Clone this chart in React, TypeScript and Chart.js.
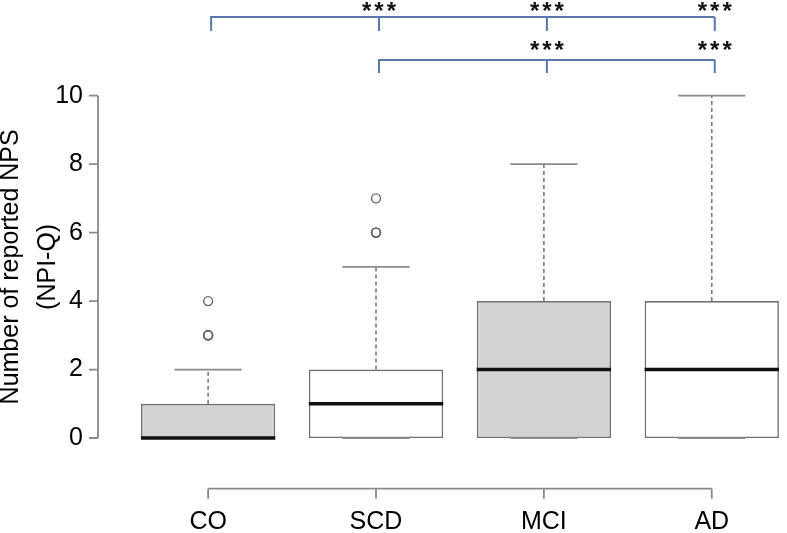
import React, { useEffect, useRef } from 'react';
import { Chart, registerables } from 'chart.js';

Chart.register(...registerables);

// ---- data ----
const categories = ['CO', 'SCD', 'MCI', 'AD'];
const whiskerLow = [0, 0, 0, 0];
const q1 = [0, 0, 0, 0];
const medians = [0, 1, 2, 2];
const q3 = [1, 2, 4, 4];
const whiskerHigh = [2, 5, 8, 10];
const outliers = [[3, 3, 3, 4], [6, 6, 6, 7], [], []];
const boxFills = ['#d3d3d3', '#ffffff', '#d3d3d3', '#ffffff'];
const yTicks = [0, 2, 4, 6, 8, 10];
const bracketFrom = [0, 1];
const bracketTargets = [[1, 2, 3], [2, 3]];
const sigLabel = '***';

const FONT = "'Liberation Sans', Arial, Helvetica, sans-serif";

const boxPlugin = {
  id: 'boxExtras',
  afterDatasetsDraw(chart: any) {
    const ctx = chart.ctx;
    const xs = chart.scales.x;
    const ys = chart.scales.y;
    const meta = chart.getDatasetMeta(0);
    ctx.save();
    categories.forEach((_, i) => {
      const cx = xs.getPixelForValue(i + 1);
      const bar = meta.data[i];
      const w = bar ? bar.width : 135;
      // whiskers (dashed)
      ctx.strokeStyle = '#7a7a7a';
      ctx.lineWidth = 1.6;
      ctx.setLineDash([4, 3]);
      ctx.beginPath();
      ctx.moveTo(cx, ys.getPixelForValue(q3[i]));
      ctx.lineTo(cx, ys.getPixelForValue(whiskerHigh[i]));
      ctx.moveTo(cx, ys.getPixelForValue(q1[i]));
      ctx.lineTo(cx, ys.getPixelForValue(whiskerLow[i]));
      ctx.stroke();
      ctx.setLineDash([]);
      // staples
      ctx.strokeStyle = '#8a8a8a';
      ctx.lineWidth = 1.8;
      ctx.beginPath();
      ctx.moveTo(cx - w / 4, ys.getPixelForValue(whiskerHigh[i]));
      ctx.lineTo(cx + w / 4, ys.getPixelForValue(whiskerHigh[i]));
      ctx.moveTo(cx - w / 4, ys.getPixelForValue(whiskerLow[i]));
      ctx.lineTo(cx + w / 4, ys.getPixelForValue(whiskerLow[i]));
      ctx.stroke();
      // median
      ctx.strokeStyle = '#111111';
      ctx.lineWidth = 3.5;
      ctx.beginPath();
      ctx.moveTo(cx - w / 2, ys.getPixelForValue(medians[i]));
      ctx.lineTo(cx + w / 2, ys.getPixelForValue(medians[i]));
      ctx.stroke();
    });

    // R-style axes
    const area = chart.chartArea;
    ctx.strokeStyle = '#8a8a8a';
    ctx.lineWidth = 1.8;
    const axY = area.bottom + 37;
    ctx.beginPath();
    ctx.moveTo(xs.getPixelForValue(1), axY);
    ctx.lineTo(xs.getPixelForValue(categories.length), axY);
    categories.forEach((_, i) => {
      const px = xs.getPixelForValue(i + 1);
      ctx.moveTo(px, axY);
      ctx.lineTo(px, axY + 10);
    });
    const axX = area.left;
    ctx.moveTo(axX, ys.getPixelForValue(yTicks[0]));
    ctx.lineTo(axX, ys.getPixelForValue(yTicks[yTicks.length - 1]));
    yTicks.forEach((v) => {
      const py = ys.getPixelForValue(v);
      ctx.moveTo(axX, py);
      ctx.lineTo(axX - 9, py);
    });
    ctx.stroke();

    // significance brackets
    const rowY = [17, 60];
    const tickLen = [14, 13];
    const starBase = [19, 58];
    ctx.strokeStyle = '#5877ad';
    ctx.lineWidth = 2;
    ctx.fillStyle = '#111111';
    ctx.font = `bold 24px ${FONT}`;
    (ctx as any).letterSpacing = '3px';
    ctx.textAlign = 'center';
    ctx.textBaseline = 'alphabetic';
    bracketFrom.forEach((from, r) => {
      const targets = bracketTargets[r];
      const x0 = xs.getPixelForValue(from + 1) + 3;
      const x1 = xs.getPixelForValue(targets[targets.length - 1] + 1) + 3;
      ctx.beginPath();
      ctx.moveTo(x0, rowY[r] + tickLen[r]);
      ctx.lineTo(x0, rowY[r]);
      ctx.lineTo(x1, rowY[r]);
      targets.forEach((t) => {
        const px = xs.getPixelForValue(t + 1) + 3;
        ctx.moveTo(px, rowY[r]);
        ctx.lineTo(px, rowY[r] + tickLen[r]);
      });
      ctx.stroke();
      targets.forEach((t) => {
        const px = xs.getPixelForValue(t + 1) + 3;
        ctx.fillText(sigLabel, px + 1.5, starBase[r]);
      });
    });
    ctx.restore();
  },
};

export default function App() {
  const ref = useRef<HTMLCanvasElement>(null);
  useEffect(() => {
    document.body.style.margin = '0';
    if (!ref.current) return;
    const chart = new Chart(ref.current, {
      type: 'bar',
      data: {
        datasets: [
          {
            type: 'bar',
            data: categories.map((_, i) => ({ x: i + 1, y: [q1[i], q3[i]] })) as any,
            backgroundColor: boxFills,
            borderColor: '#707070',
            borderWidth: 1.6,
            borderSkipped: false,
            barPercentage: 0.8,
            categoryPercentage: 1,
            order: 2,
          } as any,
          {
            type: 'line',
            data: outliers.flatMap((arr, i) => arr.map((v) => ({ x: i + 1, y: v }))) as any,
            showLine: false,
            pointRadius: 4.5,
            pointBorderWidth: 1.4,
            pointBorderColor: '#666666',
            pointBackgroundColor: 'rgba(255,255,255,0)',
            order: 1,
          } as any,
        ],
      },
      options: {
        animation: false,
        responsive: false,
        layout: { padding: { top: 82, right: 0, left: 0, bottom: 0 } },
        plugins: { legend: { display: false }, tooltip: { enabled: false } },
        scales: {
          x: {
            type: 'linear',
            min: 0.344,
            max: 4.413,
            offset: false,
            grid: { display: false, drawTicks: false },
            border: { display: false },
            afterBuildTicks: (s: any) => {
              s.ticks = categories.map((_, i) => ({ value: i + 1 }));
            },
            afterFit: (s: any) => {
              s.height = 81.3;
            },
            ticks: {
              callback: (v: any) => categories[Math.round(Number(v)) - 1],
              padding: 55,
              autoSkip: false,
              maxRotation: 0,
              color: '#000',
              font: { family: FONT, size: 25 },
            },
          },
          y: {
            type: 'linear',
            min: -0.4,
            max: 10.4,
            grid: { display: false, drawTicks: false },
            border: { display: false },
            afterBuildTicks: (s: any) => {
              s.ticks = yTicks.map((v) => ({ value: v }));
            },
            afterFit: (s: any) => {
              s.width = 98;
            },
            ticks: {
              padding: 15,
              color: '#000',
              font: { family: FONT, size: 25 },
            },
            title: {
              display: true,
              text: ['Number of reported NPS', '(NPI-Q)'],
              color: '#000',
              font: { family: FONT, size: 25, lineHeight: 1.5 },
              padding: { top: -8, bottom: 0 },
            },
          },
        },
      } as any,
      plugins: [boxPlugin],
    });
    return () => chart.destroy();
  }, []);
  return <canvas ref={ref} width={787} height={533} style={{ display: 'block' }} />;
}
